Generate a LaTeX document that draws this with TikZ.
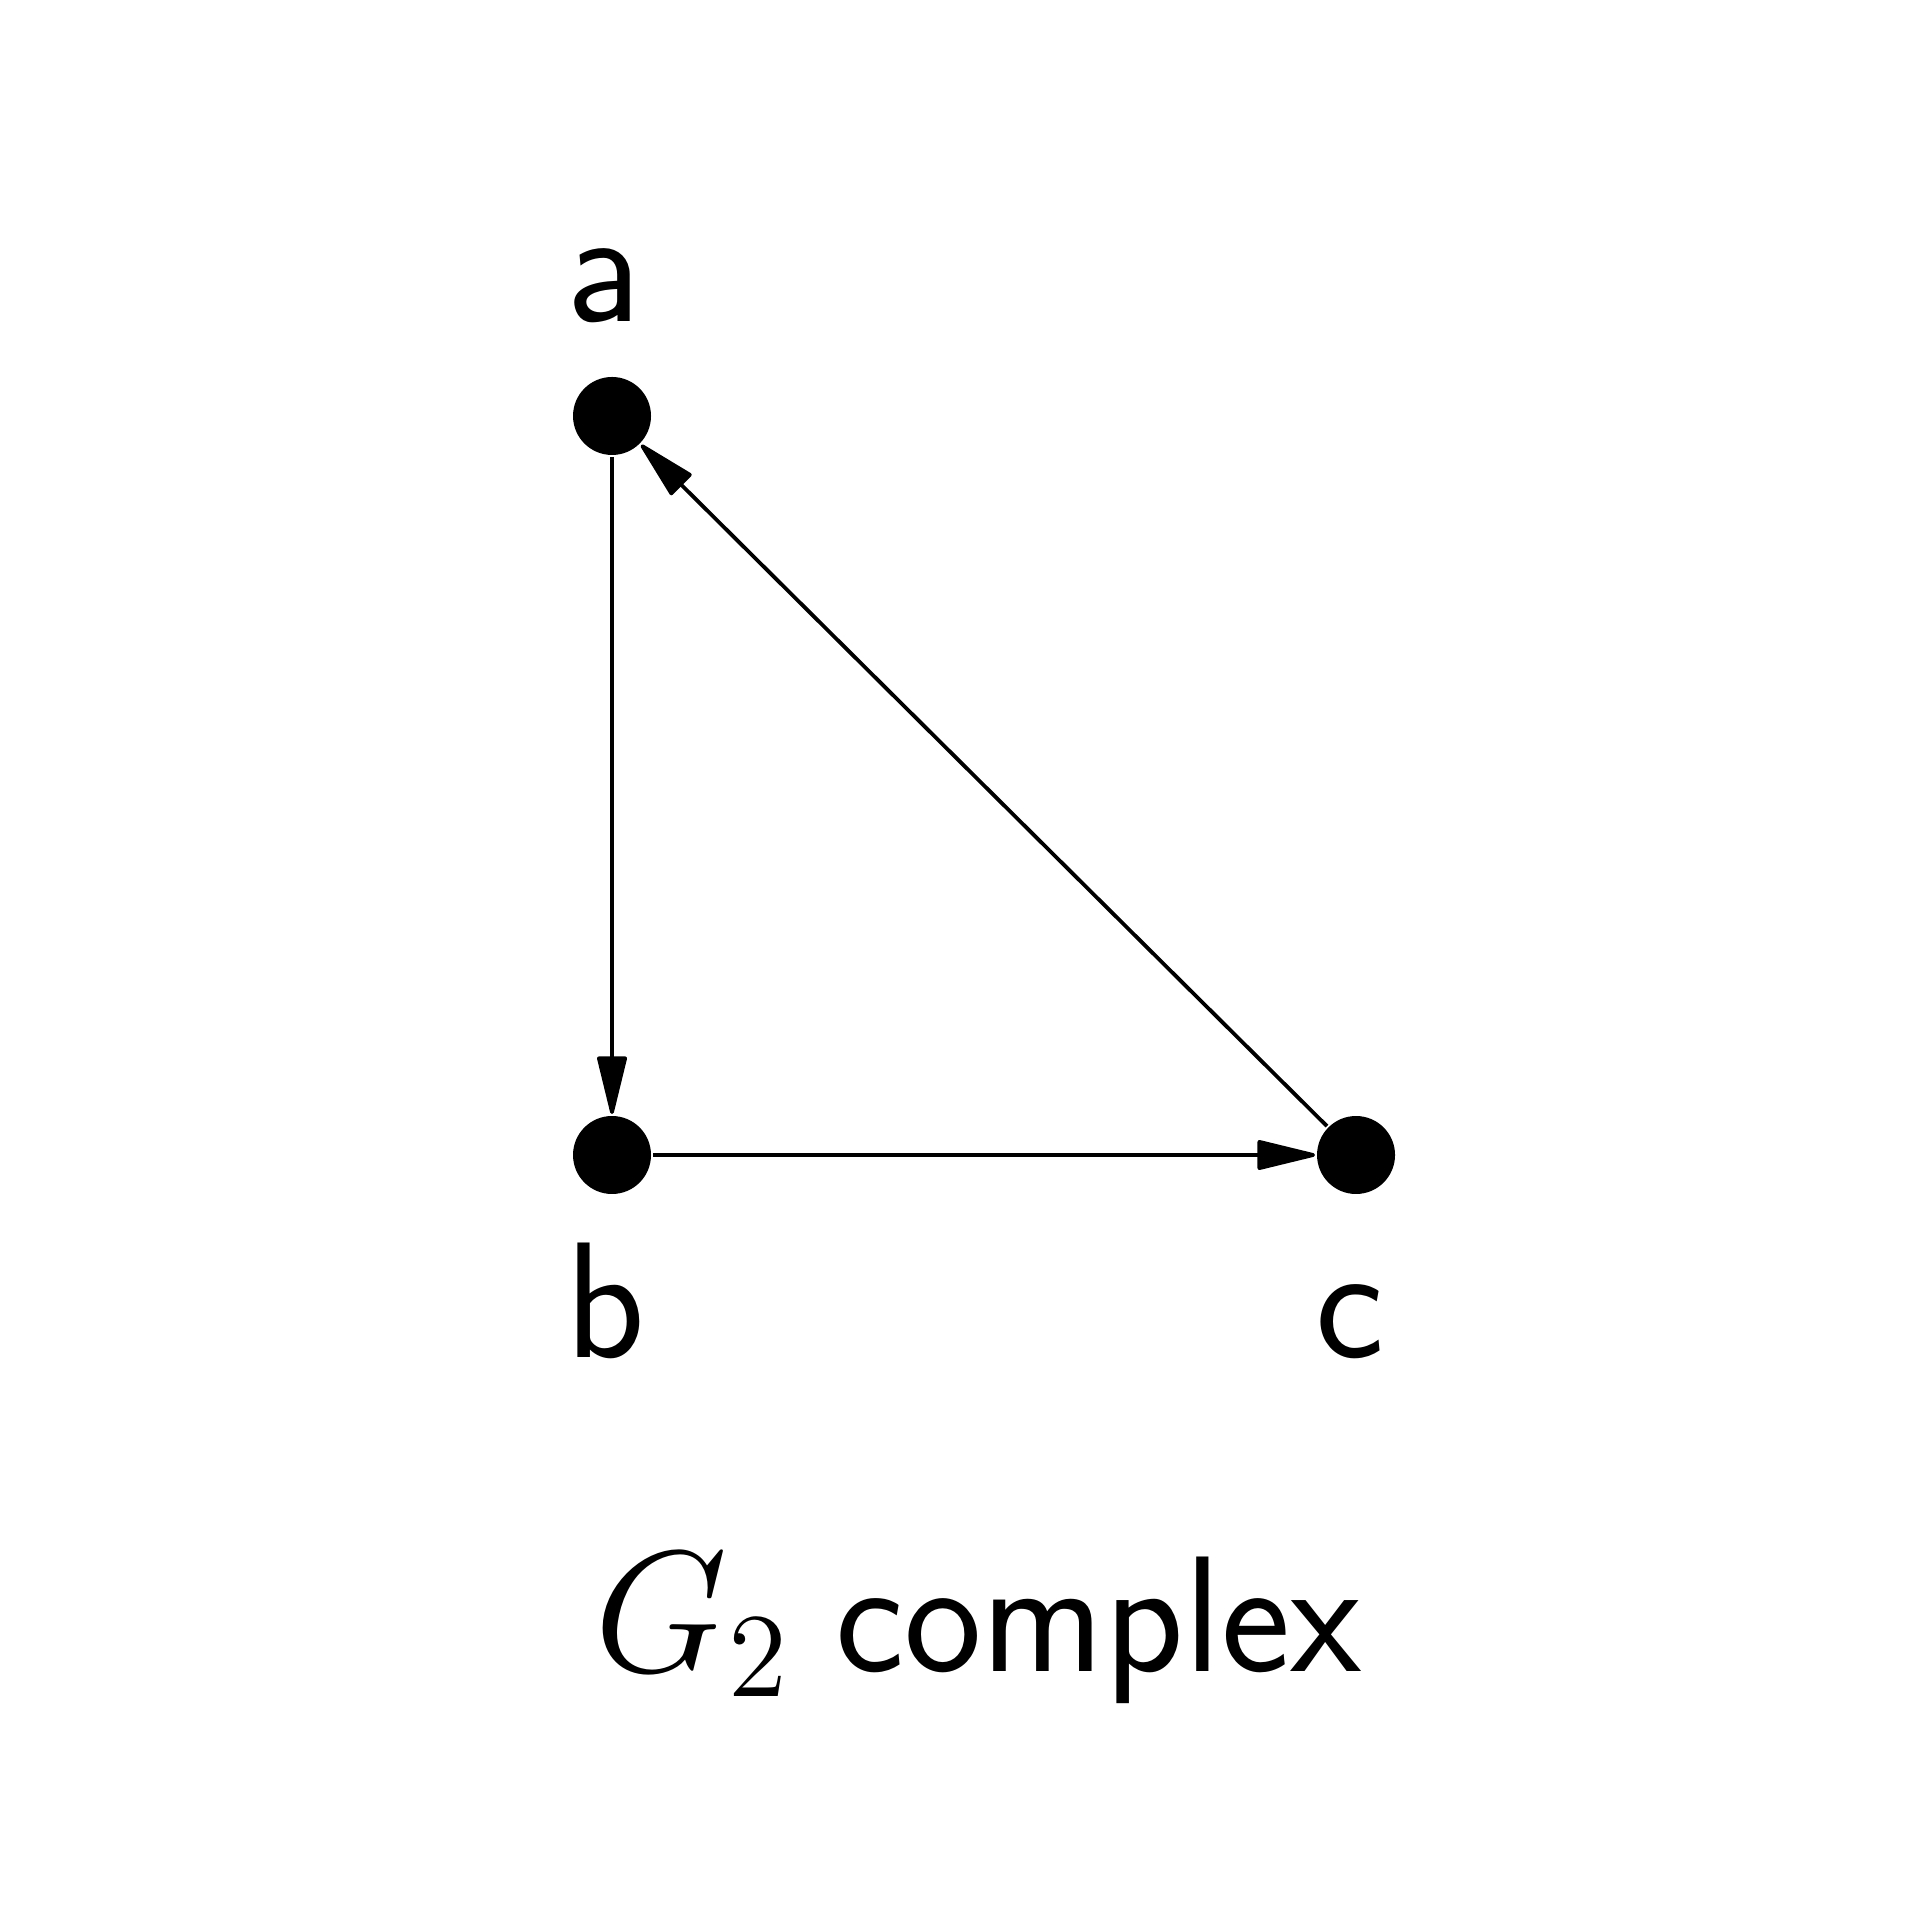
\documentclass[tikz,border=0pt]{standalone}
\usetikzlibrary{arrows.meta}
\begin{document}
\begin{tikzpicture}[x=0.1pt,y=-0.1pt,
  vtx/.style={circle,fill=black,inner sep=0pt,minimum size=7.8pt},
  lbl/.style={anchor=base,inner sep=0pt,font=\fontsize{16.5}{20}\selectfont\sffamily},
  edge/.style={line width=0.38pt,-{Triangle[length=6.4pt,width=3pt,round]}}]
\useasboundingbox (0,0) rectangle (1920,1920);
\node[vtx] (a) at (612,416) {};
\node[vtx] (b) at (612,1155) {};
\node[vtx] (c) at (1356,1155) {};
\node[lbl] (la) at (604,322) {a};
\node[lbl] (lb) at (605,1357) {b};
\node[lbl] (lc) at (1350,1357) {c};
\node[lbl] (cap) at (978,1671) {$G_2$\hspace{-0.85pt} complex};
\draw[edge] (a) -- (b);
\draw[edge] (b) -- (c);
\draw[edge] (c) -- (a);
\end{tikzpicture}
\end{document}
